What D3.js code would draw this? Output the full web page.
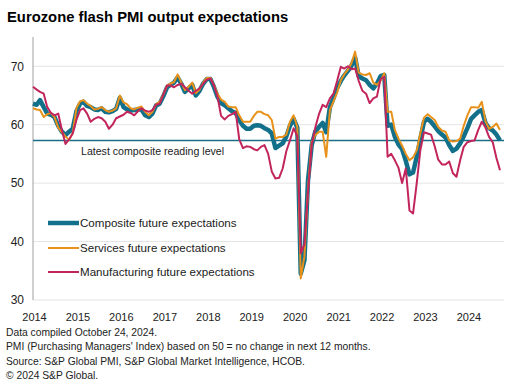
<!DOCTYPE html>
<html><head><meta charset="utf-8">
<script src="https://cdn.jsdelivr.net/npm/d3@7"></script>
<style>
body{margin:0;background:#fff;}
svg{display:block;font-family:"Liberation Sans",Arial,sans-serif;}
</style></head>
<body><svg id="c" width="510" height="392"></svg>
<script>
const startMonth = "2014-01";
const yearLabels = ["2014","2015","2016","2017","2018","2019","2020","2021","2022","2023","2024"];
const yTicks = [30,40,50,60,70];
const latestComposite = 57.3;
const seriesNames = ["Composite future expectations","Services future expectations","Manufacturing future expectations"];

const composite = [
63.6,63.4,64.2,63.0,61.9,61.7,61.3,59.8,58.8,58.2,58.8,59.3,
62.3,63.6,63.9,63.2,63.0,62.6,62.5,62.8,62.2,62.1,62.3,62.7,
64.6,63.0,62.6,62.4,62.5,62.6,62.6,61.6,61.3,61.9,63.3,63.6,
64.9,66.4,66.8,67.2,68.1,67.0,65.6,66.2,66.8,65.0,65.8,67.0,
67.8,67.8,66.5,64.8,63.7,63.3,62.8,62.3,62.0,60.8,59.8,59.3,
59.3,59.8,59.9,59.8,59.4,59.1,58.5,56.0,56.4,56.8,58.0,59.8,
61.0,59.5,34.5,36.8,50.5,56.5,58.8,59.6,60.3,58.7,63.0,64.5,
66.3,67.5,68.4,69.2,70.1,71.5,68.3,67.9,67.6,66.8,66.2,67.0,
68.3,68.5,59.8,60.0,57.9,56.6,55.8,53.8,51.5,51.8,54.5,57.5,
60.5,61.0,60.5,59.7,58.9,58.3,57.8,56.5,55.5,55.9,56.8,58.0,
59.4,61.0,61.6,62.2,62.5,60.3,59.4,59.0,58.3,57.3
];
const services = [
62.8,62.6,62.5,61.3,61.8,62.0,61.3,59.5,58.7,58.0,57.4,58.6,
62.8,64.0,64.2,63.6,63.2,62.6,62.7,63.0,62.5,62.2,62.4,62.8,
65.0,63.8,63.5,62.8,62.6,62.9,63.1,62.2,61.6,62.2,63.5,63.9,
65.2,66.7,67.0,67.3,68.6,67.2,65.9,66.5,67.2,65.4,66.0,67.2,
68.0,68.0,66.8,65.3,64.3,63.9,63.1,63.0,63.0,61.6,60.5,60.5,
60.5,61.5,62.2,62.2,61.8,61.6,60.8,57.6,57.9,57.9,58.3,60.5,
61.6,59.6,33.7,37.5,49.0,57.0,58.2,58.8,58.8,54.5,62.5,64.0,
65.5,67.6,68.6,69.4,70.5,72.5,68.9,68.6,68.5,68.8,67.2,66.8,
67.5,68.8,62.2,62.2,59.1,57.6,56.4,55.0,53.9,54.4,55.6,58.5,
61.2,61.8,61.3,60.8,59.6,59.0,58.8,57.3,57.1,57.2,57.6,59.8,
61.6,63.0,63.0,62.9,63.9,60.6,59.3,59.6,60.2,59.1
];
const manufacturing = [
66.5,66.0,65.6,65.3,63.0,62.0,61.6,61.9,59.1,56.7,57.5,58.5,
60.8,62.5,62.8,61.9,60.5,61.0,61.3,61.1,60.5,59.3,60.0,61.1,
61.4,61.7,62.2,62.0,61.6,62.3,62.8,62.4,62.2,62.5,63.4,63.6,
65.2,66.7,66.7,66.4,66.8,67.0,66.4,65.8,65.3,65.8,66.2,67.0,
67.7,67.9,66.8,64.8,61.5,60.9,61.5,61.8,62.2,57.5,56.0,56.3,
56.2,55.8,55.6,56.2,56.5,55.0,52.0,50.8,50.9,52.5,55.5,57.3,
59.4,58.0,38.0,39.5,48.5,56.5,59.5,61.8,63.4,63.0,64.5,65.3,
67.5,69.9,69.6,70.0,69.5,69.6,67.5,65.8,65.3,63.7,64.5,64.8,
67.8,68.2,54.5,55.0,53.9,52.6,50.0,52.5,45.3,44.8,50.0,55.6,
58.7,58.5,58.3,56.3,54.0,53.2,53.2,53.7,51.7,51.1,53.9,56.2,
57.0,57.2,57.3,59.1,60.5,59.5,57.9,57.0,54.3,52.2
];
const footnotes = [
"Data compiled October 24, 2024.",
"PMI (Purchasing Managers' Index) based on 50 = no change in next 12 months.",
"Source: S&P Global PMI, S&P Global Market Intelligence, HCOB.",
"\u00A9 2024 S&P Global."
];

const colors = ["#12708a","#e8921c","#c2255c"];
const widths = [4.5,2,2];

const svg = d3.select("#c");
const parse = d3.timeParse("%Y-%m");
const t0 = parse(startMonth);
const dates = composite.map((d,i)=>d3.timeMonth.offset(t0,i));
const x = d3.scaleTime().domain([t0, dates[dates.length-1]]).range([33,500]);
const y = d3.scaleLinear().domain([30,75]).range([300,37]);

// title
svg.append("text").attr("x",7).attr("y",22).attr("font-size",14.8).attr("font-weight","bold").attr("fill","#000").text("Eurozone flash PMI output expectations");

// grid
svg.append("g").selectAll("line").data(yTicks).join("line")
  .attr("x1",33).attr("x2",504).attr("y1",d=>y(d)).attr("y2",d=>y(d))
  .attr("stroke","#e4e4e4").attr("stroke-width",1);

// y axis
const yAxis = d3.axisLeft(y).tickValues(yTicks).tickSize(0).tickPadding(9);
const gy = svg.append("g").attr("transform","translate(33,0)").call(yAxis);
gy.select(".domain").remove();
gy.selectAll("text").attr("font-size",12).attr("fill","#222").attr("font-family","Liberation Sans, Arial, sans-serif");
svg.append("line").attr("x1",33).attr("x2",33).attr("y1",37).attr("y2",300).attr("stroke","#a0a0a0").attr("stroke-width",1);

// x axis labels
const xAxis = d3.axisBottom(x).tickValues(yearLabels.map(s=>d3.timeParse("%Y")(s))).tickFormat(d3.timeFormat("%Y")).tickSize(0).tickPadding(8);
const gx = svg.append("g").attr("transform","translate(1,305)").call(xAxis);
gx.select(".domain").remove();
gx.selectAll("text").attr("font-size",11).attr("fill","#222").attr("font-family","Liberation Sans, Arial, sans-serif");

// reference line
svg.append("line").attr("x1",33).attr("x2",504).attr("y1",y(latestComposite)).attr("y2",y(latestComposite))
  .attr("stroke","#1a6f88").attr("stroke-width",1.5);
svg.append("text").attr("x",81).attr("y",y(latestComposite)+15).attr("font-size",10.6).attr("fill","#222").text("Latest composite reading level");

// lines
const line = d3.line().x((d,i)=>x(dates[i])).y(d=>y(d));
[composite,services,manufacturing].forEach((s,k)=>{
  svg.append("path").datum(s).attr("d",line).attr("fill","none")
    .attr("stroke",colors[k]).attr("stroke-width",widths[k]).attr("stroke-linejoin","round");
});

// legend
const ly = [223,248,272];
seriesNames.forEach((n,k)=>{
  svg.append("line").attr("x1",48).attr("x2",79).attr("y1",ly[k]).attr("y2",ly[k]).attr("stroke",colors[k]).attr("stroke-width",widths[k]);
  svg.append("text").attr("x",80).attr("y",ly[k]+4.3).attr("font-size",11.6).attr("fill","#222").text(n);
});

// footnotes
footnotes.forEach((f,i)=>{
  svg.append("text").attr("x",6).attr("y",335.5+i*14.6).attr("font-size",10.3).attr("fill","#222").text(f);
});
</script></body></html>
